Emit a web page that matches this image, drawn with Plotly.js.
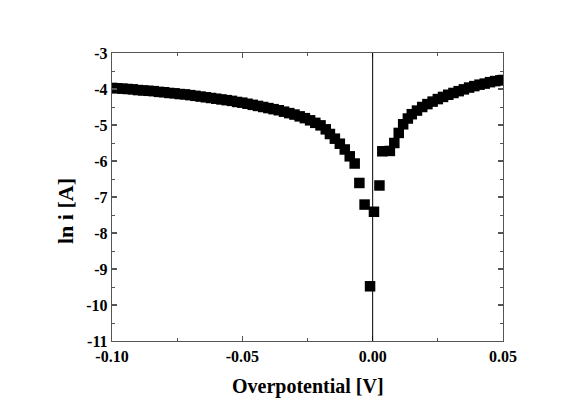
<!DOCTYPE html>
<html>
<head>
<meta charset="utf-8">
<script src="https://cdn.plot.ly/plotly-3.0.1.min.js"></script>
<style>html,body{margin:0;padding:0;background:#fff;}#chart{width:577px;height:401px;}</style>
</head>
<body>
<div id="chart"></div>
<script>
// Overpotential [V]
var overpotential = [
  -0.100,-0.098,-0.096,-0.094,-0.092,-0.090,-0.088,-0.086,-0.084,-0.082,
  -0.080,-0.078,-0.076,-0.074,-0.072,-0.070,-0.068,-0.066,-0.064,-0.062,
  -0.060,-0.058,-0.056,-0.054,-0.052,-0.050,-0.048,-0.046,-0.044,-0.042,
  -0.040,-0.038,-0.036,-0.034,-0.032,-0.030,-0.028,-0.026,-0.024,-0.022,
  -0.020,-0.018,-0.0164,-0.0145,-0.0126,-0.0107,-0.0088,-0.0069,
  -0.0051,-0.0031,-0.0010,0.0005,0.0026,
  0.0037,0.0066,0.0083,0.0100,0.0117,0.0135,0.0150,0.0170,0.0190,0.0210,
  0.0230,0.0250,0.0270,0.0290,0.0310,0.0330,0.0350,0.0370,0.0390,0.0410,
  0.0430,0.0450,0.0470,0.0490,0.0500
];
// ln i [A]
var lnCurrent = [
  -3.97,-3.98,-3.99,-4.00,-4.01,-4.03,-4.04,-4.05,-4.06,-4.08,
  -4.09,-4.11,-4.12,-4.14,-4.15,-4.17,-4.19,-4.21,-4.23,-4.25,
  -4.27,-4.29,-4.31,-4.33,-4.36,-4.38,-4.41,-4.44,-4.47,-4.50,
  -4.53,-4.56,-4.59,-4.63,-4.67,-4.71,-4.76,-4.81,-4.87,-4.94,
  -5.01,-5.12,-5.25,-5.38,-5.52,-5.68,-5.87,-6.07,
  -6.61,-7.21,-9.48,-7.41,-6.68,
  -5.73,-5.72,-5.50,-5.22,-4.98,-4.82,-4.70,-4.60,-4.50,-4.42,
  -4.35,-4.28,-4.22,-4.16,-4.11,-4.06,-4.01,-3.96,-3.92,-3.88,
  -3.85,-3.81,-3.78,-3.76,-3.75
];
var xTickVals = [-0.10,-0.05,0.00,0.05];
var xTickText = ["-0.10","-0.05","0.00","0.05"];
var yTickVals = [-3,-4,-5,-6,-7,-8,-9,-10,-11];
var yTickText = ["-3","-4","-5","-6","-7","-8","-9","-10","-11"];

var serif = "'Liberation Serif', 'Times New Roman', serif";
var frame = "#555555";

var trace = {
  x: overpotential, y: lnCurrent, type: "scatter", mode: "markers",
  marker: {symbol: "square", size: 10.5, color: "#000000", line: {width: 0}},
  hoverinfo: "skip"
};

var layout = {
  width: 577, height: 401,
  margin: {l: 112, r: 74, t: 53, b: 60},
  paper_bgcolor: "#ffffff", plot_bgcolor: "#ffffff",
  showlegend: false,
  font: {family: serif, color: "#000000"},
  xaxis: {
    range: [-0.10, 0.05], tickmode: "array", tickvals: xTickVals, ticktext: xTickText,
    showgrid: false, zeroline: false, showline: true, linecolor: frame, linewidth: 1.3,
    mirror: "ticks", ticks: "inside", ticklen: 5, tickwidth: 1.2, tickcolor: frame,
    minor: {tickmode: "array", tickvals: [-0.075,-0.025,0.025], ticks: "inside", ticklen: 3, tickwidth: 1, tickcolor: frame, showgrid: false},
    tickfont: {family: serif, size: 16, color: "#000", weight: "bold"}
  },
  yaxis: {
    range: [-11, -3], tickmode: "array", tickvals: yTickVals, ticktext: yTickText,
    showgrid: false, zeroline: false, showline: true, linecolor: frame, linewidth: 1.3,
    mirror: "ticks", ticks: "inside", ticklen: 5, tickwidth: 1.2, tickcolor: frame,
    minor: {dtick: 0.5, ticks: "inside", ticklen: 3, tickwidth: 1, tickcolor: frame, showgrid: false},
    tickfont: {family: serif, size: 16, color: "#000", weight: "bold"}
  },
  shapes: [{type: "line", xref: "x", yref: "paper", x0: 0, x1: 0, y0: 0, y1: 1, line: {color: "#000", width: 1}}],
  annotations: [
    {text: "<b>Overpotential [V]</b>", xref: "paper", yref: "paper", x: 0.5, y: 0, yshift: -45, xanchor: "center", yanchor: "middle", showarrow: false, font: {family: serif, size: 20, color: "#000"}},
    {text: "<b>ln i [A]</b>", xref: "paper", yref: "paper", x: 0, xshift: -47, y: 0.5, yshift: -14, xanchor: "center", yanchor: "middle", textangle: -90, showarrow: false, font: {family: serif, size: 22, color: "#000"}}
  ]
};

Plotly.newPlot("chart", [trace], layout, {displayModeBar: false, staticPlot: true});
</script>
</body>
</html>
